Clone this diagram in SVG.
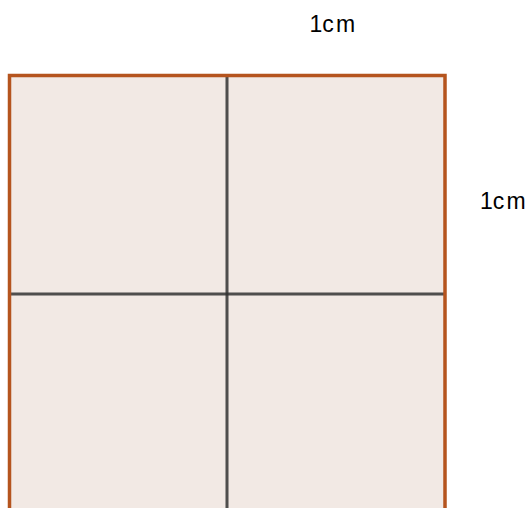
<svg xmlns="http://www.w3.org/2000/svg" width="532" height="508" viewBox="0 0 532 508">
<style>
.lbl{font-family:"Liberation Sans",Arial,sans-serif;font-size:23px;fill:#000}
.grid{stroke:#333;stroke-width:3;stroke-opacity:0.85}
.edge{stroke:#b5541e;stroke-width:3.5;fill:none}
</style>
<g id="square">
<rect x="9.5" y="75.5" width="435.5" height="437" fill="#f2e9e4"/>
</g>
<g id="connectors">
<line class="grid" x1="227" y1="75.5" x2="227" y2="512"/>
<line class="grid" x1="9.5" y1="294" x2="445" y2="294"/>
<path class="edge" d="M9.5 512 V75.5 H445 V512"/>
</g>
<g id="label-top"><text class="lbl" x="309.5 322.3 336" y="31.5">1cm</text></g>
<g id="label-right"><text class="lbl" x="480 492.8 506.5" y="208.5">1cm</text></g>
</svg>
